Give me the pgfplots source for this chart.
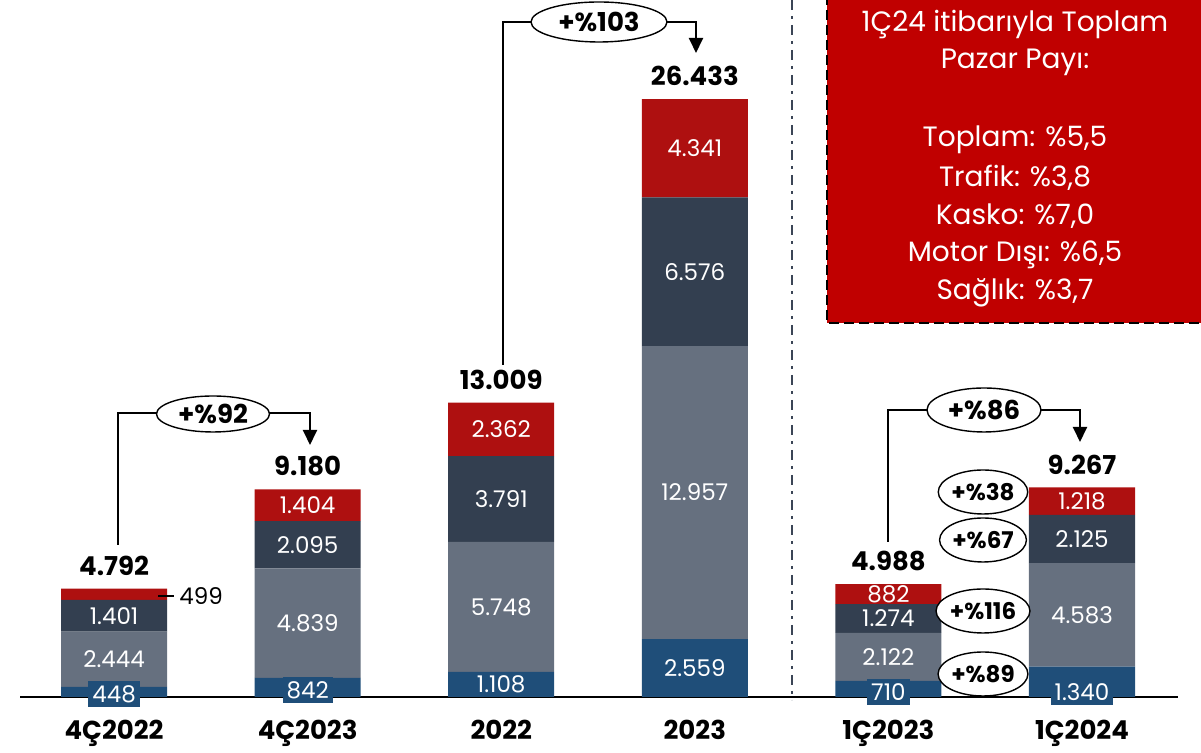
\documentclass[border=0pt]{standalone}
\usepackage{fontspec}
\setmainfont{Poppins}
\usepackage{pgfplots}
\pgfplotsset{compat=1.18}
\usetikzlibrary{arrows.meta,shapes.geometric}
\definecolor{cred}{HTML}{AE1010}
\definecolor{cnavy}{HTML}{333F50}
\definecolor{cgrey}{HTML}{66707F}
\definecolor{cblue}{HTML}{1F4E79}
\definecolor{boxred}{HTML}{C00000}
\definecolor{sepc}{HTML}{3B4556}
\begin{document}
\begin{tikzpicture}
\useasboundingbox (-10pt,-28pt) rectangle (590.5pt,348.5pt);
\tikzset{lbl/.style={text=white, font=\fontsize{11.5}{12}\selectfont, inner sep=1pt},
  tot/.style={font=\bfseries\fontsize{13}{13}\selectfont, anchor=south, yshift=3pt}}
\begin{axis}[at={(0,0)}, anchor=south west, scale only axis,
  width=579pt, height=348.5pt,
  xmin=-0.486, xmax=5.496, ymin=0, ymax=30813,
  ybar stacked, bar width=53pt,
  axis x line=bottom, axis y line=none,
  axis line style={-, line width=1pt, black},
  xtick={0,1,2,3,4,5},
  xticklabels={4Ç2022,4Ç2023,2022,2023,1Ç2023,1Ç2024},
  xticklabel style={font=\bfseries\fontsize{13}{13}\selectfont, yshift=-8pt},
  major tick length=0, clip=false]
\addplot[fill=cblue, draw=none] coordinates {(0,448) (1,842) (2,1108) (3,2559) (4,710) (5,1340)};
\addplot[fill=cgrey, draw=none] coordinates {(0,2444) (1,4839) (2,5748) (3,12957) (4,2122) (5,4583)};
\addplot[fill=cnavy, draw=none] coordinates {(0,1401) (1,2095) (2,3791) (3,6576) (4,1274) (5,2125)};
\addplot[fill=cred, draw=none] coordinates {(0,499) (1,1404) (2,2362) (3,4341) (4,882) (5,1218)};
% label anchor points (segment midpoints)
\coordinate (s01) at (axis cs:0,1670);
\coordinate (s02) at (axis cs:0,3592);
\coordinate (s11) at (axis cs:1,3262);
\coordinate (s12) at (axis cs:1,6729);
\coordinate (s13) at (axis cs:1,8478);
\coordinate (s20) at (axis cs:2,554);
\coordinate (s21) at (axis cs:2,3982);
\coordinate (s22) at (axis cs:2,8752);
\coordinate (s23) at (axis cs:2,11828);
\coordinate (s30) at (axis cs:3,1280);
\coordinate (s31) at (axis cs:3,9038);
\coordinate (s32) at (axis cs:3,18804);
\coordinate (s33) at (axis cs:3,24263);
\coordinate (s41) at (axis cs:4,1771);
\coordinate (s42) at (axis cs:4,3469);
\coordinate (s43) at (axis cs:4,4547);
\coordinate (s51) at (axis cs:5,3632);
\coordinate (s52) at (axis cs:5,6986);
\coordinate (s53) at (axis cs:5,8657);
\coordinate (t0) at (axis cs:0,4792);
\coordinate (t1) at (axis cs:1,9180);
\coordinate (t2) at (axis cs:2,13009);
\coordinate (t3) at (axis cs:3,26433);
\coordinate (t4) at (axis cs:4,4988);
\coordinate (t5) at (axis cs:5,9267);
\coordinate (b0) at (axis cs:0,0);
\coordinate (b1) at (axis cs:1,0);
\coordinate (b4) at (axis cs:4,0);
\coordinate (b5) at (axis cs:5,0);
\end{axis}
\node[lbl] at (s01) {2.444};
\node[lbl] at (s02) {1.401};
\node[lbl] at (s11) {4.839};
\node[lbl] at (s12) {2.095};
\node[lbl] at (s13) {1.404};
\node[lbl] at (s20) {1.108};
\node[lbl] at (s21) {5.748};
\node[lbl] at (s22) {3.791};
\node[lbl] at (s23) {2.362};
\node[lbl] at (s30) {2.559};
\node[lbl] at (s31) {12.957};
\node[lbl] at (s32) {6.576};
\node[lbl] at (s33) {4.341};
\node[lbl] at (s41) {2.122};
\node[lbl] at (s42) {1.274};
\node[lbl] at (s43) {882};
\node[lbl] at (s51) {4.583};
\node[lbl] at (s52) {2.125};
\node[lbl] at (s53) {1.218};
\node[tot] at (t0) {4.792};
\node[tot] at (t1) {9.180};
\node[tot] at (t2) {13.009};
\node[tot] at (t3) {26.433};
\node[tot] at (t4) {4.988};
\node[tot] at (t5) {9.267};
\tikzset{blbl/.style={fill=cblue, text=white, font=\fontsize{11.5}{12}\selectfont, inner xsep=2pt, inner ysep=0pt, minimum height=13pt}}
\node[blbl, yshift=1.5pt] at (b0) {448};
\node[blbl, yshift=3.5pt] at (b1) {842};
\node[blbl, yshift=2.5pt] at (b4) {710};
\node[blbl, yshift=2.5pt] at (b5) {1.340};
\begin{scope}[x=0.5pt, y=-0.5pt, shift={(-10pt,348.5pt)}]
  % separator
  \draw[sepc, line width=1pt, dash pattern=on 5pt off 3pt on 1.5pt off 3pt] (792,0) -- (792,700);
  % red box
  \fill[boxred] (827,-5) rectangle (1215,323);
  \draw[black, line width=1pt, dash pattern=on 5pt off 2.5pt] (827,-5) -- (827,323) -- (1215,323);
  \begin{scope}[every node/.style={text=white, font=\fontsize{14}{16}\selectfont}]
    \node at (1015,25) {1Ç24 itibarıyla Toplam};
    \node at (1015,62) {Pazar Payı:};
    \node at (1015,140) {Toplam: \%5,5};
    \node at (1015,178) {Trafik: \%3,8};
    \node at (1015,216) {Kasko: \%7,0};
    \node at (1015,255) {Motor Dışı: \%6,5};
    \node at (1015,293) {Sağlık: \%3,7};
  \end{scope}
  % 499 leader
  \draw[line width=0.7pt] (158,596) -- (174,596);
  \node[font=\fontsize{11.5}{12}\selectfont, anchor=west, inner sep=1pt] at (177,596) {499};
  % growth arrows
  \tikzset{garr/.style={line width=1pt, -{Triangle[width=7pt,length=7.5pt]}},
    gell/.style={draw, line width=0.7pt, ellipse, fill=white, inner sep=0pt, font=\bfseries\fontsize{13}{13}\selectfont},
    sell/.style={draw, line width=0.7pt, ellipse, fill=white, inner sep=0pt, minimum width=42.5pt, minimum height=22pt, font=\bfseries\fontsize{11.5}{12}\selectfont}}
  \draw[garr] (118,545) -- (118,413) -- (310,413) -- (310,445);
  \node[gell, minimum width=56.5pt, minimum height=18pt] at (213,414) {+\%92};
  \draw[garr] (503,365) -- (503,22) -- (696,22) -- (696,53);
  \node[gell, minimum width=68pt, minimum height=20pt] at (599,22) {+\%103};
  \draw[garr] (888,542) -- (888,410) -- (1080,410) -- (1080,442);
  \node[gell, minimum width=57pt, minimum height=22pt] at (984,410) {+\%86};
  \node[sell] at (983,492) {+\%38};
  \node[sell] at (983,540) {+\%67};
  \node[sell] at (983,611) {+\%116};
  \node[sell] at (983,674) {+\%89};
\end{scope}
\end{tikzpicture}
\end{document}
